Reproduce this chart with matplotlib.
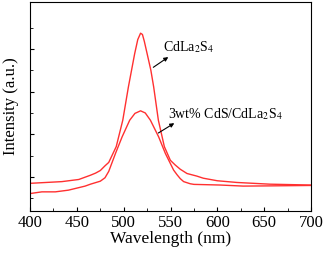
import numpy as np
import matplotlib
import matplotlib.pyplot as plt

matplotlib.rcParams.update({
    'font.family': 'Liberation Serif',
    'mathtext.fontset': 'stix',
})

# upper curve: CdLa2S4
wl_a = [400, 434, 452, 464.5, 470, 475, 480, 484, 492, 499, 505, 511.7, 515, 518, 520, 522,
        525, 529, 532, 537, 543.4, 549.8, 555, 560.4, 567.6, 578, 585, 600, 621, 656, 700]
int_a = [0.65, 0.69, 0.74, 0.84, 0.89, 0.95, 1.06, 1.14, 1.51, 2.13, 2.91, 3.69, 4.02, 4.17, 4.14, 3.98,
         3.69, 3.30, 2.91, 2.13, 1.51, 1.19, 1.08, 0.98, 0.88, 0.82, 0.77, 0.71, 0.67, 0.63, 0.61]

# lower curve: 3wt% CdS/CdLa2S4
wl_b = [400, 412.6, 427, 441, 458.8, 464.5, 475, 480, 484, 491.2, 498.3, 506.4, 512, 518, 523,
        528.5, 537.3, 544.5, 553.3, 557, 560.4, 564, 571, 575, 603, 627.6, 656, 700]
int_b = [0.41, 0.45, 0.45, 0.49, 0.585, 0.63, 0.70, 0.78, 0.93, 1.35, 1.74, 2.13, 2.29, 2.35, 2.30,
         2.13, 1.74, 1.35, 0.96, 0.85, 0.76, 0.69, 0.64, 0.625, 0.61, 0.585, 0.59, 0.60]

label_a = 'CdLa$_2$S$_4$'
label_b = '3wt% CdS/CdLa$_2$S$_4$'

fig = plt.figure(figsize=(3.27, 2.58), dpi=100)
ax = fig.add_axes([0.092, 0.182, 0.859, 0.81])

ax.plot(wl_a, int_a, color='#ff3030', lw=1.0)
ax.plot(wl_b, int_b, color='#ff3030', lw=1.0)

ax.set_xlim(400, 700)
ax.set_ylim(0, 4.9)
ax.set_xticks(np.arange(400, 701, 50))
ax.set_xticks(np.arange(425, 700, 50), minor=True)
ax.set_yticks([0.8, 1.8, 2.8, 3.8])
ax.set_yticks([0.3, 1.3, 2.3, 3.3, 4.3], minor=True)
ax.set_yticklabels([])
ax.tick_params(direction='in', which='both', labelsize=12, pad=3)
ax.tick_params(which='major', length=3)
ax.tick_params(which='minor', length=2)

ax.set_xlabel('Wavelength (nm)', fontsize=12.5, labelpad=0)
ax.set_ylabel('Intensity (a.u.)', fontsize=12, labelpad=5)

arrow = dict(arrowstyle='-|>', color='black', lw=0.8,
             mutation_scale=6, shrinkA=0, shrinkB=0)

ax.text(542, 3.74, label_a, fontsize=10, ha='left', va='baseline')
ax.annotate('', xy=(547.6, 3.61), xytext=(531.6, 3.37), arrowprops=arrow)

ax.text(547.6, 2.18, label_b, fontsize=10, ha='left', va='baseline')
ax.annotate('', xy=(554, 2.06), xytext=(537, 1.83), arrowprops=arrow)

fig.savefig('out.png', dpi=100)
